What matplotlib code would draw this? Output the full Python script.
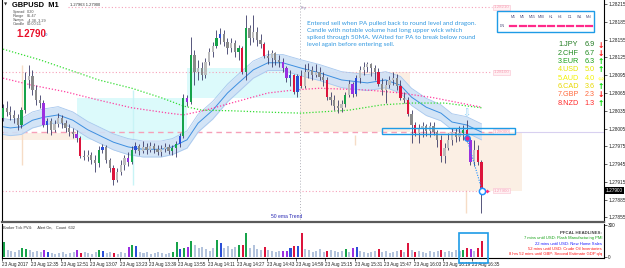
import numpy as np
import matplotlib.pyplot as plt
from matplotlib.patches import Rectangle

plt.rcParams['font.family'] = ['Liberation Sans', 'DejaVu Sans']

W, H = 625, 268
BASE = 1.27  # prices below are in 0.00001 above 1.27000

# ---- GBPUSD M1 shown as 2-minute candles ----
first_open = 1023
closes = [1040, 1033, 1028, 1023, 1011, 1036, 1087, 1094, 1070, 1053,
          1048, 1011, 1018, 1003, 1013, 1023, 1014, 1006, 999, 996,
          989, 959, 957, 960, 952, 947, 969, 974, 952, 938,
          918, 932, 943, 955, 949, 969, 976, 967, 974, 969,
          976, 970, 965, 970, 974, 967, 972, 979, 992, 1057,
          1050, 1129, 1100, 1107, 1095, 1117, 1134, 1144, 1158, 1165,
          1151, 1141, 1149, 1134, 1141, 1100, 1175, 1158, 1168, 1154,
          1148, 1127, 1124, 1132, 1121, 1117, 1107, 1090, 1095, 1067,
          1094, 1077, 1100, 1104, 1095, 1100, 1092, 1087, 1058, 1053,
          1043, 1040, 1046, 1062, 1080, 1063, 1090, 1104, 1109, 1114,
          1107, 1100, 1080, 1070, 1078, 1087, 1090, 1077, 1057, 1053,
          1030, 1011, 997, 1006, 1009, 1001, 1009, 999, 986, 959,
          972, 986, 999, 991, 997, 1003, 986, 949, 969, 949,
          900]
highs = [1046, 1051, 1043, 1036, 1030, 1041, 1100, 1112, 1104, 1078,
         1062, 1053, 1023, 1023, 1019, 1031, 1028, 1019, 1013, 1006,
         1003, 992, 969, 969, 965, 960, 976, 979, 977, 955,
         943, 938, 952, 960, 965, 976, 982, 979, 984, 981,
         982, 981, 977, 977, 981, 979, 977, 984, 997, 1063,
         1062, 1160, 1138, 1121, 1117, 1124, 1141, 1151, 1171, 1175,
         1171, 1158, 1158, 1154, 1146, 1144, 1197, 1180, 1197, 1176,
         1165, 1151, 1138, 1138, 1134, 1129, 1124, 1111, 1104, 1097,
         1097, 1104, 1114, 1116, 1111, 1114, 1109, 1100, 1092, 1067,
         1062, 1053, 1053, 1067, 1087, 1084, 1095, 1111, 1117, 1117,
         1116, 1112, 1107, 1090, 1087, 1094, 1100, 1097, 1087, 1067,
         1058, 1036, 1016, 1013, 1016, 1013, 1016, 1016, 1003, 994,
         981, 997, 1006, 1006, 1009, 1011, 1019, 989, 986, 977,
         952]
lows = [1018, 1026, 1019, 1014, 1003, 1006, 1031, 1073, 1062, 1045,
        1040, 1008, 997, 994, 999, 1008, 1006, 999, 992, 989,
        982, 955, 952, 950, 945, 932, 940, 964, 947, 932,
        910, 915, 927, 935, 942, 945, 964, 960, 964, 962,
        965, 964, 960, 959, 965, 962, 960, 957, 974, 989,
        1043, 1046, 1078, 1087, 1087, 1090, 1112, 1126, 1141, 1148,
        1144, 1131, 1134, 1126, 1121, 1097, 1087, 1146, 1151, 1144,
        1141, 1124, 1114, 1109, 1112, 1109, 1100, 1084, 1077, 1063,
        1058, 1073, 1073, 1090, 1087, 1092, 1087, 1077, 1053, 1045,
        1036, 1031, 1033, 1041, 1058, 1058, 1060, 1082, 1095, 1100,
        1094, 1087, 1077, 1062, 1048, 1073, 1078, 1070, 1053, 1048,
        1026, 981, 992, 981, 991, 992, 991, 994, 974, 949,
        947, 969, 977, 982, 984, 986, 982, 943, 942, 943,
        862]
# PVSRA class per candle: n normal, g climax bull, r climax bear, b bull vol, v bear vol
pvsra = list("gnnnnggnnn" "nvbnnnnnnn" "vrnnnngbnn" "rnnnvgbnnn" "nnnnnnggbg"
             "vgnnnnnngb" "nnnngrgnnn" "nrnnnnvvbr" "brnnnnnnrn" "nnngnvbnnn"
             "nnrnnnnnrn" "rnrnnnnnnr" "nnnnngrvnr" "r")
volume = [140, 65, 55, 45, 65, 85, 75, 65, 45, 55,
          45, 65, 45, 35, 30, 35, 45, 30, 35, 45,
          65, 35, 45, 35, 30, 45, 65, 55, 35, 45,
          35, 30, 45, 35, 95, 110, 100, 45, 35, 45,
          30, 35, 45, 35, 30, 35, 45, 140, 75, 85,
          95, 150, 110, 85, 95, 75, 55, 85, 160, 130,
          85, 100, 75, 95, 110, 110, 225, 85, 110, 75,
          65, 95, 65, 55, 45, 55, 55, 55, 85, 100,
          100, 225, 75, 65, 45, 55, 75, 45, 55, 65,
          55, 45, 55, 75, 45, 85, 95, 55, 45, 35,
          45, 55, 75, 45, 55, 35, 45, 55, 65, 45,
          130, 65, 45, 55, 45, 35, 55, 45, 55, 65,
          45, 55, 45, 65, 55, 65, 85, 75, 55, 85,
          150]

# dragon band (EMA of high / close / low)
ema_idx = [0, 2, 5, 8, 11, 15, 19, 23, 26, 30, 34, 38, 43, 46, 50, 53, 57,
           61, 64, 68, 72, 76, 81, 86, 92, 99, 104, 108, 111, 115, 119, 122, 126, 130]
ema_mid = [1008, 1006, 1008, 1019, 1024, 1028, 1019, 1003, 994, 982, 974, 970, 970,
           974, 986, 1014, 1036, 1065, 1082, 1104, 1116, 1116, 1107, 1099, 1087, 1082,
           1087, 1078, 1058, 1041, 1031, 1016, 1011, 999]
ema_hi = [1022, 1020, 1022, 1033, 1038, 1042, 1033, 1017, 1008, 996, 988, 984, 984,
          988, 1001, 1029, 1051, 1080, 1097, 1119, 1130, 1130, 1121, 1113, 1101, 1096,
          1101, 1093, 1073, 1056, 1045, 1030, 1025, 1013]
ema_lo = [995, 993, 995, 1006, 1011, 1015, 1006, 990, 981, 969, 961, 957, 957,
          961, 972, 999, 1021, 1050, 1067, 1090, 1103, 1103, 1094, 1086, 1074, 1069,
          1074, 1065, 1044, 1027, 1018, 1003, 998, 986]
green_ma_idx = [0, 10, 18, 26, 35, 43, 49, 54, 62, 70, 81, 94, 103, 111, 120, 130]
green_ma = [1139, 1121, 1104, 1087, 1073, 1057, 1043, 1036, 1035, 1033, 1031, 1036,
            1045, 1048, 1048, 1040]
pink_ma_idx = [0, 8, 17, 26, 35, 45, 49, 55, 62, 72, 79, 86, 99, 108, 117, 130]
pink_ma = [1090, 1078, 1067, 1053, 1040, 1031, 1028, 1036, 1048, 1065, 1070, 1073,
           1070, 1065, 1057, 1041]

# zones: (start idx, end idx, low, high)
cyan_zones = [(20.1, 50.0, 986, 1057), (50.0, 80.7, 1057, 1107)]
peach_zones = [(-0.3, 20.1, 986, 997), (80.7, 110.6, 1000, 1100), (110.6, 141.0, 900, 1000)]
levels = [1210, 1100, 1000, 900]
level_start = [17.7, -0.3, -0.3, -0.3]
level_labels = ['1.28210', '1.28100', '1.28000', '1.27900']

price_ticks = [1.28215, 1.28185, 1.28155, 1.28125, 1.28095, 1.28065, 1.28035,
               1.28005, 1.27975, 1.27945, 1.27915, 1.27885, 1.27855]
time_ticks = [-0.5, 7.5, 15.5, 23.5, 31.5, 39.5, 47.5, 55.5, 63.5, 71.5, 79.5,
              87.5, 95.5, 103.5, 111.5, 119.5, 127.5]
time_labels = ['23 Aug 2017', '23 Aug 12:35', '23 Aug 12:51', '23 Aug 13:07',
               '23 Aug 13:23', '23 Aug 13:39', '23 Aug 13:55', '23 Aug 14:11',
               '23 Aug 14:27', '23 Aug 14:43', '23 Aug 14:59', '23 Aug 15:15',
               '23 Aug 15:31', '23 Aug 15:47', '23 Aug 16:03', '23 Aug 16:19',
               '23 Aug 16:35']

strength_names = ['1.JPY', '2.CHF', '3.EUR', '4.USD', '5.AUD', '6.CAD', '7.GBP', '8.NZD']
strength_vals = ['6.9', '6.7', '6.3', '5.0', '4.0', '3.6', '2.3', '1.3']
strength_arrows = ['↓', '↓', '↑', '↑', '⇔', '↑', '↓', '↑']
tf_labels = ['M1', 'M5', 'M15', 'M30', 'H1', 'H4', 'D1', 'W1', 'MN']
headlines = ['7 mins until USD: Flash Manufacturing PMI',
             '22 mins until USD: New Home Sales',
             '52 mins until USD: Crude Oil Inventories',
             '8 hrs 52 mins until GBP: Second Estimate GDP q/q']
note = ('Entered sell when PA pulled back to round level and dragon.\n'
        'Candle with notable volume had long upper wick which\n'
        'spiked through 50MA. WAited for PA to break below round\n'
        'level again before entering sell.')

COL = {'g': '#17a34a', 'r': '#dc143c', 'b': '#2b4fd8', 'v': '#9b30e0'}
WICK = '#3a3a66'


def pr(v):
    return BASE + np.asarray(v, dtype=float) / 1e5


def ftxt(x, y, s, **kw):
    kw.setdefault('va', 'center')
    return fig.text(x / W, 1 - y / H, s, **kw)


fig = plt.figure(figsize=(W / 100, H / 100), dpi=100)
fig.patch.set_facecolor('white')
ax = fig.add_axes([2 / W, 46 / H, 602 / W, 222 / H])
axv = fig.add_axes([2 / W, 10 / H, 602 / W, 34 / H])
XL = (-0.27, 163.3)

# ---------------- main price pane ----------------
ax.set_xlim(*XL)
ax.set_ylim(1.278473, 1.282219)

for x0, x1, lo, hi in cyan_zones:
    ax.add_patch(Rectangle((x0, pr(lo)), x1 - x0, pr(hi) - pr(lo), fc='#dcfafb', ec='none', zorder=0.5))
for x0, x1, lo, hi in peach_zones:
    ax.add_patch(Rectangle((x0, pr(lo)), x1 - x0, pr(hi) - pr(lo), fc='#fbefe4', ec='none', zorder=0.5))
ax.vlines([5.2], pr(943), pr(1112), color='#f6dcc6', lw=1, zorder=0.6)
ax.vlines([35.3], pr(910), pr(1070), color='#c8f4f6', lw=1, zorder=0.6)
ax.vlines([95.7], pr(977), pr(994), color='#f6dcc6', lw=1, zorder=0.6)
ax.vlines([125.8], pr(862), pr(901), color='#f6dcc6', lw=1, zorder=0.6)
ax.axvline(80.7, color='#b0b0b8', lw=0.7, ls=(0, (1, 2)), zorder=0.7)

for lv, xs, lab in zip(levels, level_start, level_labels):
    ls = (0, (4, 3)) if lv == 1000 else (0, (1, 2))
    lw = 1.0 if lv == 1000 else 0.8
    ax.hlines(pr(lv), xs, 132.8, color='#f6a0b8', lw=lw, ls=ls, zorder=1)
    ax.text(133.2, pr(lv), lab, fontsize=3.2, color='#f7a0b4', va='center', ha='left',
            bbox=dict(fc='#fff0f3', ec='#f9c0cf', lw=0.4, pad=0.4), zorder=6)
ax.hlines(pr(1000), 139.2, XL[1], color='#d8d0f0', lw=0.8, zorder=1)

# dragon band + MAs
ax.fill_between(ema_idx, pr(ema_lo), pr(ema_hi), color='#cfe1f6', alpha=0.9, lw=0, zorder=2)
ax.plot(ema_idx, pr(ema_hi), color='#a8c8ee', lw=0.6, zorder=2.1)
ax.plot(ema_idx, pr(ema_lo), color='#a8c8ee', lw=0.6, zorder=2.1)
ax.plot(ema_idx, pr(ema_mid), color='#3d8fe0', lw=0.7, zorder=2.2)
ax.plot(green_ma_idx, pr(green_ma), color='#33dd33', lw=0.9, ls=(0, (1, 1.5)), zorder=3)
ax.plot(pink_ma_idx, pr(pink_ma), color='#ff3fa0', lw=0.9, ls=(0, (1, 1.5)), zorder=3)

# candles
idx = np.arange(len(closes))
opens = [first_open] + closes[:-1]
o, c, h, l = pr(opens), pr(closes), pr(highs), pr(lows)
body_col = []
for k, oo, cc in zip(pvsra, o, c):
    if k == 'n':
        body_col.append('#bdbdbd' if cc >= oo else '#8a8a8a')
    else:
        body_col.append(COL[k])
ax.vlines(idx, l, h, color=WICK, lw=0.6, zorder=4)
ax.bar(idx, np.maximum(np.abs(c - o), 0.00001), bottom=np.minimum(o, c), width=0.62,
       color=body_col, edgecolor='none', zorder=5)

# trade drawing
ax.add_patch(Rectangle((103, pr(996)), 36.1, pr(1006) - pr(996), fc='none', ec='#1e9be6', lw=1.0, zorder=6))
ax.plot([126, 130.2], [pr(989), pr(900)], color='#1e90ff', lw=0.8, ls=(0, (1, 1.3)), zorder=6)
ax.plot([126], [pr(989)], 'o', ms=4, mfc='#e8208a', mec='#1e90ff', mew=0.9, zorder=7)
ax.plot([130.2], [pr(900)], 'o', ms=4.5, mfc='white', mec='#1e90ff', mew=1.1, zorder=7)
ax.plot([131.6], [pr(900)], 'D', ms=2, mfc='#ff2a7a', mec='none', zorder=7)
ax.text(126, pr(1030), '⇩', fontsize=7, color='#8fd0f5', ha='center', va='center',
        family='DejaVu Sans', zorder=7)

ax.yaxis.tick_right()
ax.set_yticks(price_ticks)
ax.set_yticklabels([f'{v:.5f}' for v in price_ticks])
ax.tick_params(axis='y', labelsize=3.4, length=2, width=0.5, pad=1, colors='#202020')
ax.set_xticks([])
for s in ['top']:
    ax.spines[s].set_visible(False)
ax.spines['right'].set_linewidth(0.8)
ax.spines['left'].set_linewidth(0.8)
ax.spines['bottom'].set_linewidth(1.6)
ax.spines['bottom'].set_color('#5a5a5a')

ax.text(1.003, 1.279, '1.27900', transform=ax.get_yaxis_transform(), fontsize=3.4,
        color='white', va='center', ha='left', bbox=dict(fc='black', ec='none', pad=0.6), zorder=8)

# ---------------- volume pane ----------------
vcol = ['#b3c3dc' if k == 'n' else COL[k] for k in pvsra]
axv.bar(idx, volume, width=0.55, color=vcol, edgecolor='none')
axv.set_xlim(*XL)
axv.set_ylim(-9, 310)
axv.yaxis.tick_right()
axv.set_yticks([300, 0])
axv.set_yticklabels(['300', '0'])
axv.tick_params(axis='y', labelsize=3.4, length=2, width=0.5, pad=1, colors='#202020')
axv.set_xticks(time_ticks)
axv.set_xticklabels(time_labels, ha='left')
axv.tick_params(axis='x', labelsize=3.3, length=2, width=0.5, pad=1, colors='#202020')
axv.spines['top'].set_visible(False)
for s in ['left', 'right', 'bottom']:
    axv.spines[s].set_linewidth(0.8)

# ---------------- text overlays ----------------
ftxt(4, 5, '▼', fontsize=3, color='#303030', family='DejaVu Sans')
ftxt(12, 5.5, 'GBPUSD  M1', fontsize=5.4, weight='bold', color='black')
ftxt(70, 5, '1.27963 1.27900', fontsize=2.9, color='#303030')
for k, (a, b) in enumerate([('Spread', '0.20'), ('Range', '85.47'), ('Swaps', '-4.38, 3.29'),
                            ('Candle', '00:00:11')]):
    ftxt(13, 11.7 + 4.2 * k, a, fontsize=2.8, color='#505050')
    ftxt(27, 11.7 + 4.2 * k, b, fontsize=2.8, color='#505050')
ftxt(16, 34, '1.2790', fontsize=7, weight='bold', color='#e8102a')
ftxt(45, 35, '0', fontsize=3.2, color='#2f6fd0')
ftxt(301, 8, 'Fry', fontsize=3, color='#8a8ab0')
ftxt(307, 34, note, fontsize=4.6, color='#3198e0', family=['Lato', 'DejaVu Sans'],
     linespacing=1.45)
ftxt(271, 216, '50 ema Trend', fontsize=3.6, color='#2828b4')

# timeframe panel
fig.patches.append(Rectangle((497 / W, 1 - 32 / H), 97 / W, 21 / H, transform=fig.transFigure,
                             fc='white', ec='#1e9be6', lw=1.0, zorder=5))
for k, t in enumerate(tf_labels):
    ftxt(513 + 9.5 * k, 17, t, fontsize=2.6, color='#4a4a7a', ha='center', zorder=6)
    fig.lines.append(plt.Line2D([(510 + 9.5 * k) / W, (516 + 9.5 * k) / W], [1 - 26 / H] * 2,
                                transform=fig.transFigure, color='#ff2a8a', lw=1.6, zorder=6))
ftxt(500, 26, 'DN', fontsize=2.6, color='#4a4a7a', zorder=6)

# currency strength
s_cols = ['#1f7a1f', '#1f8a1f', '#18a018', '#e6e600', '#f2f200', '#e8d800', '#ff6a3d', '#ff2a2a']
a_cols = {'↓': '#ff1010', '↑': '#00dd00', '⇔': '#ffff70'}
for k in range(len(strength_names)):
    y = 45 + 8.3 * k
    ftxt(558, y, strength_names[k], fontsize=5.2, color=s_cols[k])
    ftxt(595, y, strength_vals[k], fontsize=5.2, color=s_cols[k], ha='right')
    ftxt(601, y, strength_arrows[k], fontsize=5.5, color=a_cols[strength_arrows[k]], ha='center',
         weight='bold', family='DejaVu Sans')

# volume pane texts
ftxt(3, 228, 'Broker Tick PV4:     Alert On,   Count  632', fontsize=2.8, color='#303030')
ftxt(602, 233, 'PFCAL HEADLINES:', fontsize=3.2, color='#404040', ha='right', weight='bold')
for k, (t, cl) in enumerate(zip(headlines, ['#10a010', '#1a1aff', '#ff1010', '#ff1010'])):
    ftxt(602, 238.5 + 5.2 * k, t, fontsize=3.0, color=cl, ha='right')
fig.patches.append(Rectangle((459 / W, 1 - 263 / H), 29 / W, 30 / H, transform=fig.transFigure,
                             fc='none', ec='#1e9be6', lw=1.2, zorder=9))

fig.savefig('out.png', dpi=100)
